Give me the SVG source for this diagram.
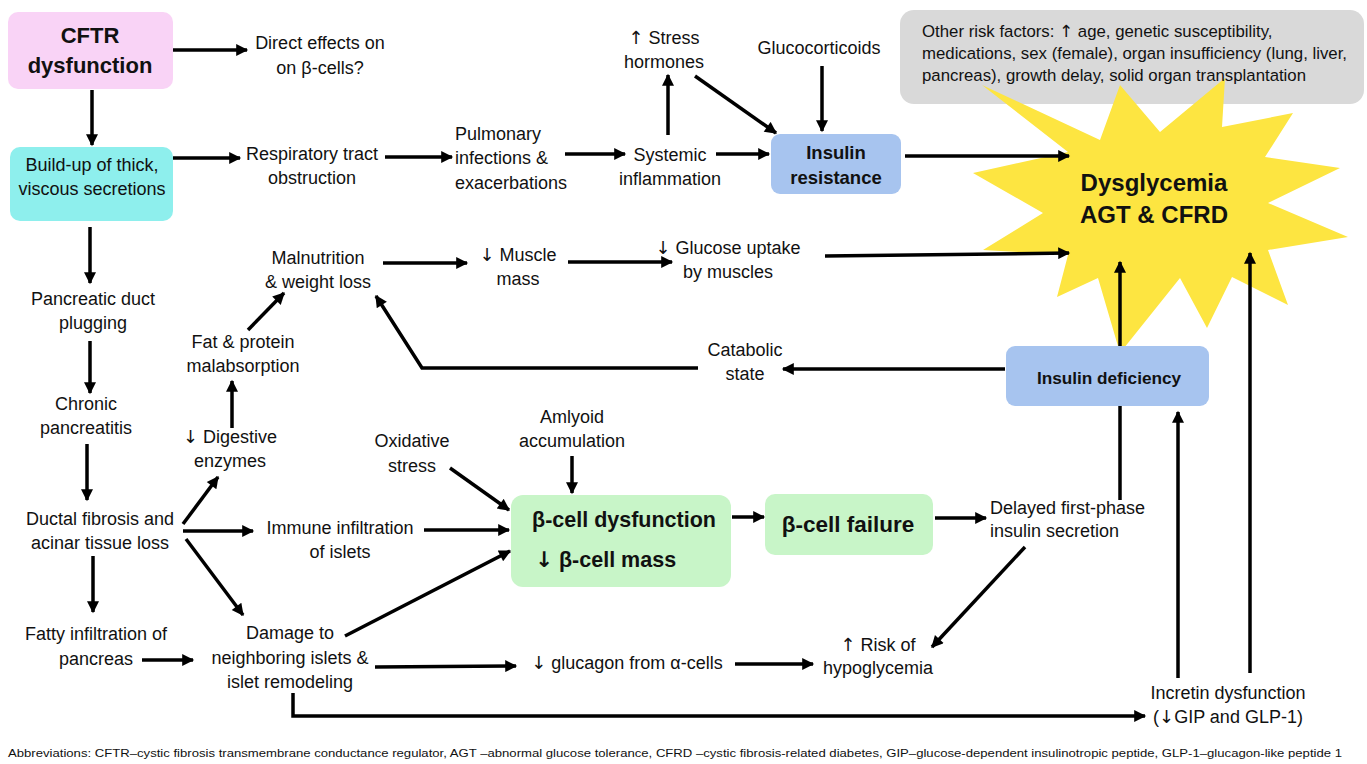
<svg xmlns="http://www.w3.org/2000/svg" width="1367" height="764" viewBox="0 0 1367 764">
<style>
text{font-family:"Liberation Sans",Arial,sans-serif;fill:#111;text-anchor:middle;font-size:18px}
.b{font-weight:bold}
.ar{font-family:"DejaVu Sans",sans-serif}
.c{stroke:#000;stroke-width:3.5;fill:none}
.a{marker-end:url(#ah)}
</style>
<defs>
<marker id="ah" viewBox="0 0 10 10" refX="9" refY="5" markerWidth="14" markerHeight="12" markerUnits="userSpaceOnUse" orient="auto"><path d="M0,0 L10,5 L0,10 z" fill="#000"/></marker>
</defs>
<rect width="1367" height="764" fill="#fff"/>

<g id="risk">
<rect x="900" y="10" width="464" height="94" rx="14" fill="#d9d9d9"/>
</g>

<g id="dysglycemia">
<polygon points="982,85 1100,140 1120,85 1160,132 1225,78 1222,127 1293,113 1265,157 1340,168 1268,203 1348,237 1268,250 1288,305 1232,277 1207,328 1180,278 1120,353 1098,278 1057,297 1068,255 983,250 1043,213 973,173 1068,152" fill="#fde541"/>
<text x="1154" y="191" class="b" style="font-size:24px">Dysglycemia</text>
<text x="1154" y="223" class="b" style="font-size:24px">AGT &amp; CFRD</text>
</g>

<g id="risk-text">
<text x="922" y="37" style="text-anchor:start;font-size:16.8px">Other risk factors: <tspan class="ar">↑</tspan> age, genetic susceptibility,</text>
<text x="922" y="59" style="text-anchor:start;font-size:16.8px">medications, sex (female), organ insufficiency (lung, liver,</text>
<text x="922" y="81" style="text-anchor:start;font-size:16.8px">pancreas), growth delay, solid organ transplantation</text>
</g>

<g id="connectors">
<line class="c a" x1="173" y1="50" x2="247" y2="50"/>
<line class="c a" x1="92" y1="90" x2="92" y2="145"/>
<line class="c a" x1="173" y1="158" x2="240" y2="158"/>
<line class="c a" x1="385" y1="157" x2="452" y2="157"/>
<line class="c a" x1="565" y1="154" x2="625" y2="154"/>
<line class="c a" x1="716" y1="154" x2="769" y2="154"/>
<line class="c a" x1="668" y1="135" x2="668" y2="75"/>
<line class="c a" x1="695" y1="76" x2="776" y2="133"/>
<line class="c a" x1="822" y1="66" x2="822" y2="131"/>
<line class="c a" x1="905" y1="156" x2="1069" y2="156"/>
<line class="c a" x1="383" y1="263" x2="467" y2="263"/>
<line class="c a" x1="568" y1="262" x2="672" y2="262"/>
<line class="c a" x1="825" y1="256" x2="1069" y2="253"/>
<line class="c a" x1="1005" y1="369" x2="783" y2="369"/>
<polyline class="c a" points="698,368 422,368 376,296"/>
<line class="c a" x1="1120" y1="346" x2="1120" y2="262"/>
<line class="c" x1="1120" y1="405" x2="1120" y2="500"/>
<line class="c a" x1="248" y1="330" x2="284" y2="293"/>
<line class="c a" x1="232" y1="428" x2="232" y2="381"/>
<line class="c a" x1="90" y1="227" x2="90" y2="283"/>
<line class="c a" x1="90" y1="341" x2="90" y2="393"/>
<line class="c a" x1="87" y1="444" x2="87" y2="500"/>
<line class="c a" x1="183" y1="524" x2="218" y2="477"/>
<line class="c a" x1="183" y1="531" x2="253" y2="531"/>
<line class="c a" x1="186" y1="539" x2="243" y2="615"/>
<line class="c a" x1="93" y1="556" x2="93" y2="612"/>
<line class="c a" x1="142" y1="660" x2="193" y2="660"/>
<line class="c a" x1="345" y1="636" x2="510" y2="551"/>
<line class="c a" x1="375" y1="667" x2="516" y2="666"/>
<line class="c a" x1="735" y1="664" x2="813" y2="664"/>
<line class="c a" x1="1025" y1="547" x2="932" y2="647"/>
<polyline class="c a" points="293,693 293,716 1145,716"/>
<line class="c a" x1="1178" y1="678" x2="1178" y2="412"/>
<line class="c a" x1="1250" y1="673" x2="1250" y2="253"/>
<line class="c a" x1="935" y1="518" x2="986" y2="518"/>
<line class="c a" x1="732" y1="517" x2="764" y2="517"/>
<line class="c a" x1="450" y1="468" x2="509" y2="510"/>
<line class="c a" x1="572" y1="456" x2="572" y2="493"/>
<line class="c a" x1="424" y1="530" x2="509" y2="530"/>
</g>

<g id="cftr">
<rect x="8" y="12" width="165" height="77" rx="10" fill="#f9d3f6"/>
<text x="90" y="43" class="b" style="font-size:22px">CFTR</text>
<text x="90" y="73" class="b" style="font-size:22px">dysfunction</text>
</g>
<g id="direct"><text x="320" y="49">Direct effects on</text><text x="320" y="74">on β-cells?</text></g>
<g id="buildup">
<rect x="10" y="147" width="163" height="74" rx="10" fill="#8eefed"/>
<text x="92" y="171">Build-up of thick,</text>
<text x="92" y="195">viscous secretions</text>
</g>
<g id="resp"><text x="312" y="160">Respiratory tract</text><text x="312" y="184">obstruction</text></g>
<g id="pulm"><text x="455" y="140" style="text-anchor:start">Pulmonary</text><text x="455" y="164" style="text-anchor:start">infections &amp;</text><text x="455" y="189" style="text-anchor:start">exacerbations</text></g>
<g id="systemic"><text x="670" y="161">Systemic</text><text x="670" y="185">inflammation</text></g>
<g id="stress"><text x="664" y="44"><tspan class="ar">↑</tspan> Stress</text><text x="664" y="68">hormones</text></g>
<g id="gluco"><text x="819" y="54">Glucocorticoids</text></g>
<g id="insres">
<rect x="771" y="134" width="130" height="60" rx="9" fill="#a7c4ef"/>
<text x="836" y="159" class="b" style="font-size:18.5px">Insulin</text>
<text x="836" y="184" class="b" style="font-size:18.5px">resistance</text>
</g>
<g id="malnut"><text x="318" y="264">Malnutrition</text><text x="318" y="288">&amp; weight loss</text></g>
<g id="muscle"><text x="518" y="261"><tspan class="ar">↓</tspan> Muscle</text><text x="518" y="285">mass</text></g>
<g id="glucose"><text x="728" y="254"><tspan class="ar">↓</tspan> Glucose uptake</text><text x="728" y="278">by muscles</text></g>
<g id="catabolic"><text x="745" y="356">Catabolic</text><text x="745" y="380">state</text></g>
<g id="insdef">
<rect x="1006" y="346" width="203" height="60" rx="9" fill="#a7c4ef"/>
<text x="1109" y="384" class="b" style="font-size:17.2px">Insulin deficiency</text>
</g>
<g id="fat"><text x="243" y="348">Fat &amp; protein</text><text x="243" y="372">malabsorption</text></g>
<g id="digest"><text x="230" y="443"><tspan class="ar">↓</tspan> Digestive</text><text x="230" y="467">enzymes</text></g>
<g id="duct"><text x="93" y="305">Pancreatic duct</text><text x="93" y="329">plugging</text></g>
<g id="chronic"><text x="86" y="410">Chronic</text><text x="86" y="434">pancreatitis</text></g>
<g id="ductal"><text x="100" y="525">Ductal fibrosis and</text><text x="100" y="549">acinar tissue loss</text></g>
<g id="immune"><text x="340" y="534">Immune infiltration</text><text x="340" y="558">of islets</text></g>
<g id="fatty"><text x="96" y="640">Fatty infiltration of</text><text x="96" y="665">pancreas</text></g>
<g id="damage"><text x="290" y="639">Damage to</text><text x="290" y="664">neighboring islets &amp;</text><text x="290" y="688">islet remodeling</text></g>
<g id="oxid"><text x="412" y="447">Oxidative</text><text x="412" y="472">stress</text></g>
<g id="amyloid"><text x="572" y="423">Amlyoid</text><text x="572" y="447">accumulation</text></g>
<g id="bdys">
<rect x="511" y="495" width="220" height="92" rx="12" fill="#c8f5c8"/>
<text x="624" y="527" class="b" style="font-size:21.5px">β-cell dysfunction</text>
<text x="535" y="567" class="b" style="font-size:21.5px;text-anchor:start"><tspan class="ar">↓</tspan> β-cell mass</text>
</g>
<g id="bfail">
<rect x="765" y="494" width="168" height="61" rx="10" fill="#c8f5c8"/>
<text x="848" y="532" class="b" style="font-size:22.5px">β-cell failure</text>
</g>
<g id="delayed"><text x="990" y="514" style="text-anchor:start">Delayed first-phase</text><text x="990" y="537" style="text-anchor:start">insulin secretion</text></g>
<g id="glucagon"><text x="627" y="669"><tspan class="ar">↓</tspan> glucagon from α-cells</text></g>
<g id="risk-hypo"><text x="878" y="651"><tspan class="ar">↑</tspan> Risk of</text><text x="878" y="674">hypoglycemia</text></g>
<g id="incretin"><text x="1228" y="699">Incretin dysfunction</text><text x="1228" y="723">(<tspan class="ar">↓</tspan>GIP and GLP-1)</text></g>

<text x="8" y="757" style="text-anchor:start;font-size:11.5px" textLength="1334" lengthAdjust="spacingAndGlyphs">Abbreviations: CFTR–cystic fibrosis transmembrane conductance regulator, AGT –abnormal glucose tolerance, CFRD –cystic fibrosis-related diabetes, GIP–glucose-dependent insulinotropic peptide, GLP-1–glucagon-like peptide 1</text>
</svg>
